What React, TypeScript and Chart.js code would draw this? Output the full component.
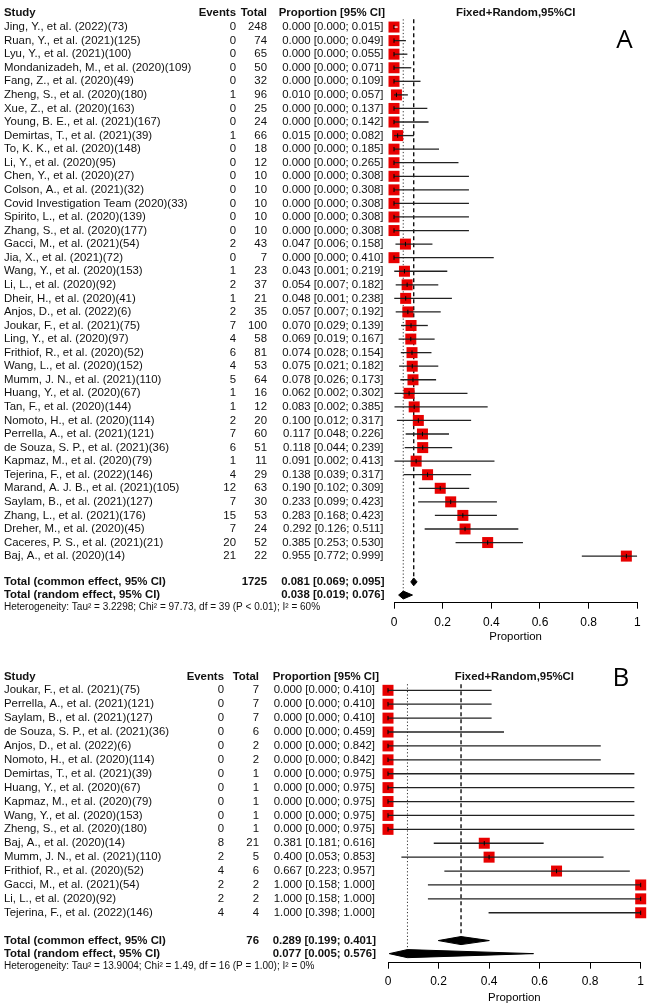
import React, { useEffect, useRef } from "react";
import { Chart, registerables } from "chart.js";

Chart.register(...registerables);

const FONT = '"Liberation Sans", Arial, Helvetica, sans-serif';
Chart.defaults.font.family = FONT;

// ---------------- Panel A data ----------------
const studiesA = [
  "Jing, Y., et al. (2022)(73)",
  "Ruan, Y., et al. (2021)(125)",
  "Lyu, Y., et al. (2021)(100)",
  "Mondanizadeh, M., et al. (2020)(109)",
  "Fang, Z., et al. (2020)(49)",
  "Zheng, S., et al. (2020)(180)",
  "Xue, Z., et al. (2020)(163)",
  "Young, B. E., et al. (2021)(167)",
  "Demirtas, T., et al. (2021)(39)",
  "To, K. K., et al. (2020)(148)",
  "Li, Y., et al. (2020)(95)",
  "Chen, Y., et al. (2020)(27)",
  "Colson, A., et al. (2021)(32)",
  "Covid Investigation Team (2020)(33)",
  "Spirito, L., et al. (2020)(139)",
  "Zhang, S., et al. (2020)(177)",
  "Gacci, M., et al. (2021)(54)",
  "Jia, X., et al. (2021)(72)",
  "Wang, Y., et al. (2020)(153)",
  "Li, L., et al. (2020)(92)",
  "Dheir, H., et al. (2020)(41)",
  "Anjos, D., et al. (2022)(6)",
  "Joukar, F., et al. (2021)(75)",
  "Ling, Y., et al. (2020)(97)",
  "Frithiof, R., et al. (2020)(52)",
  "Wang, L., et al. (2020)(152)",
  "Mumm, J. N., et al. (2021)(110)",
  "Huang, Y., et al. (2020)(67)",
  "Tan, F., et al. (2020)(144)",
  "Nomoto, H., et al. (2020)(114)",
  "Perrella, A., et al. (2021)(121)",
  "de Souza, S. P., et al. (2021)(36)",
  "Kapmaz, M., et al. (2020)(79)",
  "Tejerina, F., et al. (2022)(146)",
  "Marand, A. J. B., et al. (2021)(105)",
  "Saylam, B., et al. (2021)(127)",
  "Zhang, L., et al. (2021)(176)",
  "Dreher, M., et al. (2020)(45)",
  "Caceres, P. S., et al. (2021)(21)",
  "Baj, A., et al. (2020)(14)",
];
const eventsA = [0, 0, 0, 0, 0, 1, 0, 0, 1, 0, 0, 0, 0, 0, 0, 0, 2, 0, 1, 2, 1, 2, 7, 4, 6, 4, 5, 1, 1, 2, 7, 6, 1, 4, 12, 7, 15, 7, 20, 21];
const totalsA = [248, 74, 65, 50, 32, 96, 25, 24, 66, 18, 12, 10, 10, 10, 10, 10, 43, 7, 23, 37, 21, 35, 100, 58, 81, 53, 64, 16, 12, 20, 60, 51, 11, 29, 63, 30, 53, 24, 52, 22];
const propA = [0, 0, 0, 0, 0, 0.01, 0, 0, 0.015, 0, 0, 0, 0, 0, 0, 0, 0.047, 0, 0.043, 0.054, 0.048, 0.057, 0.07, 0.069, 0.074, 0.075, 0.078, 0.062, 0.083, 0.1, 0.117, 0.118, 0.091, 0.138, 0.19, 0.233, 0.283, 0.292, 0.385, 0.955];
const lowerA = [0, 0, 0, 0, 0, 0, 0, 0, 0, 0, 0, 0, 0, 0, 0, 0, 0.006, 0, 0.001, 0.007, 0.001, 0.007, 0.029, 0.019, 0.028, 0.021, 0.026, 0.002, 0.002, 0.012, 0.048, 0.044, 0.002, 0.039, 0.102, 0.099, 0.168, 0.126, 0.253, 0.772];
const upperA = [0.015, 0.049, 0.055, 0.071, 0.109, 0.057, 0.137, 0.142, 0.082, 0.185, 0.265, 0.308, 0.308, 0.308, 0.308, 0.308, 0.158, 0.41, 0.219, 0.182, 0.238, 0.192, 0.139, 0.167, 0.154, 0.182, 0.173, 0.302, 0.385, 0.317, 0.226, 0.239, 0.413, 0.317, 0.309, 0.423, 0.423, 0.511, 0.53, 0.999];
const totalNA = 1725;
const commonA = [0.081, 0.069, 0.095]; // estimate, lower, upper
const randomA = [0.038, 0.019, 0.076];
const heteroA = "Heterogeneity: Tau\u00b2 = 3.2298; Chi\u00b2 = 97.73, df = 39 (P < 0.01); I\u00b2 = 60%";

// ---------------- Panel B data ----------------
const studiesB = [
  "Joukar, F., et al. (2021)(75)",
  "Perrella, A., et al. (2021)(121)",
  "Saylam, B., et al. (2021)(127)",
  "de Souza, S. P., et al. (2021)(36)",
  "Anjos, D., et al. (2022)(6)",
  "Nomoto, H., et al. (2020)(114)",
  "Demirtas, T., et al. (2021)(39)",
  "Huang, Y., et al. (2020)(67)",
  "Kapmaz, M., et al. (2020)(79)",
  "Wang, Y., et al. (2020)(153)",
  "Zheng, S., et al. (2020)(180)",
  "Baj, A., et al. (2020)(14)",
  "Mumm, J. N., et al. (2021)(110)",
  "Frithiof, R., et al. (2020)(52)",
  "Gacci, M., et al. (2021)(54)",
  "Li, L., et al. (2020)(92)",
  "Tejerina, F., et al. (2022)(146)",
];
const eventsB = [0, 0, 0, 0, 0, 0, 0, 0, 0, 0, 0, 8, 2, 4, 2, 2, 4];
const totalsB = [7, 7, 7, 6, 2, 2, 1, 1, 1, 1, 1, 21, 5, 6, 2, 2, 4];
const propB = [0, 0, 0, 0, 0, 0, 0, 0, 0, 0, 0, 0.381, 0.4, 0.667, 1, 1, 1];
const lowerB = [0, 0, 0, 0, 0, 0, 0, 0, 0, 0, 0, 0.181, 0.053, 0.223, 0.158, 0.158, 0.398];
const upperB = [0.41, 0.41, 0.41, 0.459, 0.842, 0.842, 0.975, 0.975, 0.975, 0.975, 0.975, 0.616, 0.853, 0.957, 1, 1, 1];
const totalNB = 76;
const commonB = [0.289, 0.199, 0.401];
const randomB = [0.077, 0.005, 0.576];
const heteroB = "Heterogeneity: Tau\u00b2 = 13.9004; Chi\u00b2 = 1.49, df = 16 (P = 1.00); I\u00b2 = 0%";

const xTicks = [0, 0.2, 0.4, 0.6, 0.8, 1];

// ---------------- layout (pixels) ----------------
const layoutA = {
  letter: "A", top: 0, height: 648, padTop: 1,
  firstRowY: 20.5, rowH: 13.72, axisY: 602.7,
  x0: 394, x1: 637.3,
  eventsR: 236, totalR: 267, propR: 383.5, propHeadR: 385,
  headerRow: -1.05, commonRow: 40.9, randomRow: 41.87, hetRow: 42.8, refTop: -0.57,
  letterX: 624.5, letterY: 41, tickPad: 7, titlePad: 4.5,
};
const layoutB = {
  letter: "B", top: 648, height: 360, padTop: 1,
  firstRowY: 36.3, rowH: 14.21, axisY: 314.7,
  x0: 388, x1: 640.7,
  eventsR: 224, totalR: 259, propR: 375, propHeadR: 379,
  headerRow: -1.0, commonRow: 18.0, randomRow: 18.94, hetRow: 19.85, refTop: -0.44,
  letterX: 621, letterY: 31, tickPad: 6, titlePad: 3.5,
};

const FS = 11.4;
const BOX = 11;
const RED = "#e80000";
const fmt = (v: number) => v.toFixed(3);

type PanelData = {
  studies: string[]; events: number[]; totals: number[];
  prop: number[]; lower: number[]; upper: number[];
  totalN: number; common: number[]; random: number[]; hetero: string;
};

function ForestPanel({ cfg, d }: { cfg: typeof layoutA; d: PanelData }) {
  const ref = useRef<HTMLCanvasElement>(null);
  useEffect(() => {
    const canvas = ref.current!;
    const yMin = (cfg.padTop - cfg.firstRowY) / cfg.rowH;
    const yMax = (cfg.axisY - cfg.firstRowY) / cfg.rowH;
    const idx = d.studies.map((_, i) => i);
    const halfD = 0.29;

    const ciSets = idx.map((i) => ({
      data: [{ x: d.lower[i], y: i }, { x: d.upper[i], y: i }],
      showLine: true,
      pointRadius: 0,
      borderWidth: 1.3,
      borderColor: "#222",
      segment: {
        borderColor: (c: any) => (Math.abs(c.p1.x - c.p0.x) < BOX - 1 ? "#ffffff" : "#222"),
      },
      clip: false,
      order: 2,
    }));

    const diamond = (v: number[], row: number) => ({
      data: [
        { x: v[1], y: row },
        { x: v[0], y: row - halfD },
        { x: v[2], y: row },
        { x: v[0], y: row + halfD },
        { x: v[1], y: row },
      ],
      showLine: true,
      pointRadius: 0,
      borderWidth: 1,
      borderColor: "#000",
      backgroundColor: "#000",
      fill: "shape",
      clip: false,
      order: 2,
    });

    const chart = new Chart(canvas, {
      type: "scatter",
      data: {
        datasets: [
          {
            // random-effect reference line (dotted)
            data: [{ x: d.random[0], y: cfg.refTop }, { x: d.random[0], y: cfg.randomRow + 0.15 }],
            showLine: true, pointRadius: 0, borderWidth: 1, borderColor: "#333",
            borderDash: [1.2, 2.2], clip: false, order: 5,
          },
          {
            // common-effect reference line (dashed)
            data: [{ x: d.common[0], y: cfg.refTop }, { x: d.common[0], y: cfg.commonRow - halfD }],
            showLine: true, pointRadius: 0, borderWidth: 1.4, borderColor: "#111",
            borderDash: [4, 3], clip: false, order: 5,
          },
          {
            // study boxes
            data: idx.map((i) => ({ x: d.prop[i], y: i })),
            pointStyle: "rect",
            pointRadius: BOX / 2 / Math.SQRT1_2,
            pointBorderWidth: 0,
            pointBackgroundColor: RED,
            pointBorderColor: RED,
            clip: false,
            order: 3,
          },
          ...ciSets,
          {
            // point estimate tick
            data: idx.map((i) => ({ x: d.prop[i], y: i })),
            pointStyle: "line",
            rotation: 90,
            pointRadius: 2.2,
            pointBorderWidth: 1,
            pointBorderColor: "#000",
            clip: false,
            order: 1,
          },
          diamond(d.common, cfg.commonRow),
          diamond(d.random, cfg.randomRow),
        ],
      },
      options: {
        responsive: false,
        animation: false,
        devicePixelRatio: 1,
        events: [],
        layout: { padding: { left: cfg.x0, right: 656 - cfg.x1, top: cfg.padTop, bottom: 0 } },
        plugins: { legend: { display: false }, tooltip: { enabled: false } },
        scales: {
          x: {
            type: "linear",
            position: "bottom",
            min: xTicks[0],
            max: xTicks[xTicks.length - 1],
            afterFit: (s: any) => { s.height = cfg.height - cfg.axisY; },
            afterBuildTicks: (s: any) => { s.ticks = xTicks.map((v) => ({ value: v })); },
            grid: { drawOnChartArea: false, drawTicks: true, tickLength: 6, color: "#000", lineWidth: 1 },
            border: { display: true, color: "#000", width: 1 },
            ticks: {
              color: "#000", font: { size: 12 }, padding: cfg.tickPad,
              maxRotation: 0, autoSkip: false,
              callback: (v: any) => String(Math.round(Number(v) * 10) / 10),
            },
            title: {
              display: true, text: "Proportion", color: "#000", font: { size: FS },
              padding: { top: 0, bottom: cfg.titlePad },
            },
          },
          y: { type: "linear", display: false, reverse: true, min: yMin, max: yMax },
        },
      },
      plugins: [
        {
          id: "forestTable" + cfg.letter,
          afterDraw(ch: any) {
            const ctx = ch.ctx as CanvasRenderingContext2D;
            const ys = ch.scales.y;
            const xs = ch.scales.x;
            const Y = (r: number) => ys.getPixelForValue(r);
            const reg = `${FS}px ${FONT}`;
            const bold = `bold ${FS}px ${FONT}`;
            ctx.save();
            ctx.fillStyle = "#111";
            ctx.textBaseline = "middle";
            // headers
            ctx.font = bold;
            const hy = Y(cfg.headerRow);
            ctx.textAlign = "left";
            ctx.fillText("Study", 4, hy);
            ctx.textAlign = "right";
            ctx.fillText("Events", cfg.eventsR, hy);
            ctx.fillText("Total", cfg.totalR, hy);
            ctx.fillText("Proportion [95% CI]", cfg.propHeadR, hy);
            ctx.textAlign = "center";
            ctx.fillText("Fixed+Random,95%CI", (xs.left + xs.right) / 2, hy);
            // study rows
            ctx.font = reg;
            d.studies.forEach((s, i) => {
              const y = Y(i);
              ctx.textAlign = "left";
              ctx.fillText(s, 4, y);
              ctx.textAlign = "right";
              ctx.fillText(String(d.events[i]), cfg.eventsR, y);
              ctx.fillText(String(d.totals[i]), cfg.totalR, y);
              ctx.fillText(`${fmt(d.prop[i])} [${fmt(d.lower[i])}; ${fmt(d.upper[i])}]`, cfg.propR, y);
            });
            // totals
            ctx.font = bold;
            const cy = Y(cfg.commonRow);
            const ry = Y(cfg.randomRow);
            ctx.textAlign = "left";
            ctx.fillText("Total (common effect, 95% CI)", 4, cy);
            ctx.fillText("Total (random effect, 95% CI)", 4, ry);
            ctx.textAlign = "right";
            ctx.fillText(String(d.totalN), cfg.totalR, cy);
            ctx.fillText(`${fmt(d.common[0])} [${fmt(d.common[1])}; ${fmt(d.common[2])}]`, cfg.propR + 1, cy);
            ctx.fillText(`${fmt(d.random[0])} [${fmt(d.random[1])}; ${fmt(d.random[2])}]`, cfg.propR + 1, ry);
            // heterogeneity
            ctx.font = `10px ${FONT}`;
            ctx.textAlign = "left";
            ctx.fillText(d.hetero, 4, Y(cfg.hetRow));
            // panel letter
            ctx.font = `26px "Open Sans", "Noto Sans", sans-serif`;
            ctx.textAlign = "center";
            ctx.fillStyle = "#000";
            ctx.fillText(cfg.letter, cfg.letterX, cfg.letterY);
            ctx.restore();
          },
        },
      ],
    } as any);
    return () => chart.destroy();
  }, []);
  return (
    <canvas
      ref={ref}
      width={656}
      height={cfg.height}
      style={{ position: "absolute", left: 0, top: cfg.top, display: "block" }}
    />
  );
}

export default function App() {
  const dA: PanelData = {
    studies: studiesA, events: eventsA, totals: totalsA, prop: propA, lower: lowerA, upper: upperA,
    totalN: totalNA, common: commonA, random: randomA, hetero: heteroA,
  };
  const dB: PanelData = {
    studies: studiesB, events: eventsB, totals: totalsB, prop: propB, lower: lowerB, upper: upperB,
    totalN: totalNB, common: commonB, random: randomB, hetero: heteroB,
  };
  return (
    <div style={{ position: "absolute", left: 0, top: 0, width: 656, height: 1008, background: "#fff" }}>
      <ForestPanel cfg={layoutA} d={dA} />
      <ForestPanel cfg={layoutB} d={dB} />
    </div>
  );
}
